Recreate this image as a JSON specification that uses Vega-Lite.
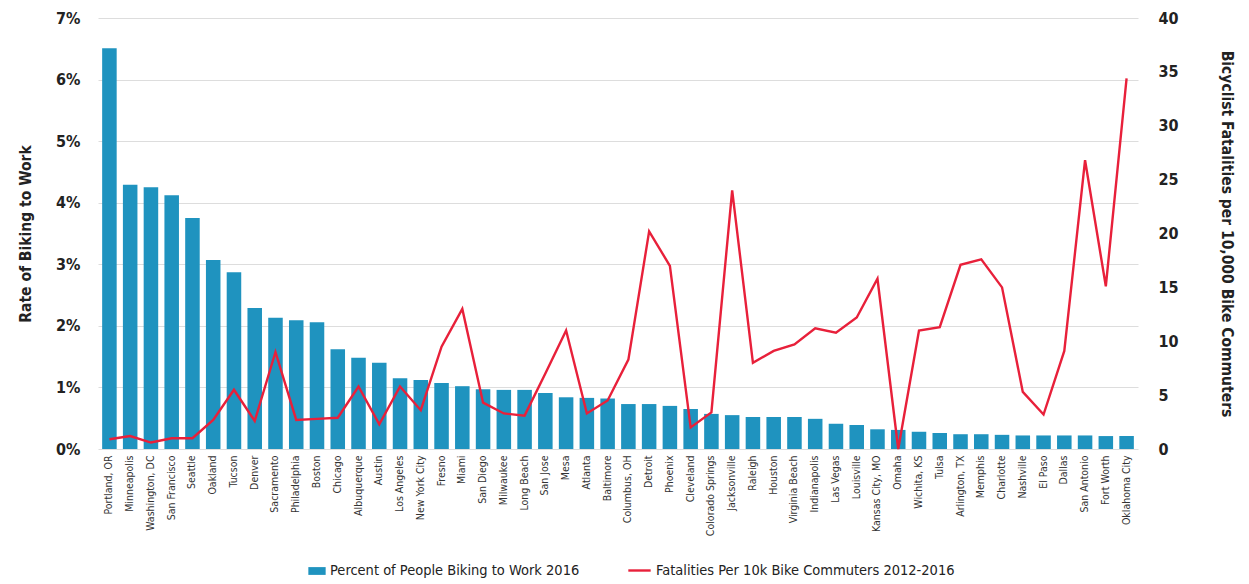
{
  "$schema": "https://vega.github.io/schema/vega-lite/v6.json",
  "width": 1040,
  "height": 431,
  "padding": {"left": 18, "top": 10, "right": 5, "bottom": 5},
  "background": "white",
  "config": {
    "view": {"stroke": null},
    "font": "DejaVu Sans Condensed",
    "axis": {"labelFont": "DejaVu Sans Condensed", "titleFont": "DejaVu Sans Condensed", "labelColor": "#222", "titleColor": "#222"},
    "legend": {"labelFont": "DejaVu Sans Condensed", "labelFontSize": 14.5, "labelColor": "#222", "labelLimit": 0},
    "line": {"strokeWidth": 2.4}
  },
  "datasets": {
    "cities": [
      {"city": "Portland, OR", "rate": 0.0651, "fatal": 0.9},
      {"city": "Minneapolis", "rate": 0.0429, "fatal": 1.2},
      {"city": "Washington, DC", "rate": 0.0425, "fatal": 0.6},
      {"city": "San Francisco", "rate": 0.0412, "fatal": 1.0},
      {"city": "Seattle", "rate": 0.0375, "fatal": 1.0},
      {"city": "Oakland", "rate": 0.0307, "fatal": 2.7},
      {"city": "Tucson", "rate": 0.0287, "fatal": 5.5},
      {"city": "Denver", "rate": 0.0229, "fatal": 2.6},
      {"city": "Sacramento", "rate": 0.0213, "fatal": 9.0},
      {"city": "Philadelphia", "rate": 0.0209, "fatal": 2.7},
      {"city": "Boston", "rate": 0.0206, "fatal": 2.8},
      {"city": "Chicago", "rate": 0.0162, "fatal": 2.9},
      {"city": "Albuquerque", "rate": 0.0148, "fatal": 5.8},
      {"city": "Austin", "rate": 0.0140, "fatal": 2.3},
      {"city": "Los Angeles", "rate": 0.0115, "fatal": 5.8},
      {"city": "New York City", "rate": 0.0112, "fatal": 3.6},
      {"city": "Fresno", "rate": 0.0107, "fatal": 9.5},
      {"city": "Miami", "rate": 0.0102, "fatal": 13.0},
      {"city": "San Diego", "rate": 0.0097, "fatal": 4.3},
      {"city": "Milwaukee", "rate": 0.0096, "fatal": 3.3},
      {"city": "Long Beach", "rate": 0.0096, "fatal": 3.1},
      {"city": "San Jose", "rate": 0.0091, "fatal": 7.0},
      {"city": "Mesa", "rate": 0.0084, "fatal": 11.0},
      {"city": "Atlanta", "rate": 0.0083, "fatal": 3.3},
      {"city": "Baltimore", "rate": 0.0082, "fatal": 4.5},
      {"city": "Columbus, OH", "rate": 0.0073, "fatal": 8.3},
      {"city": "Detroit", "rate": 0.0073, "fatal": 20.2},
      {"city": "Phoenix", "rate": 0.0070, "fatal": 17.0},
      {"city": "Cleveland", "rate": 0.0065, "fatal": 2.0},
      {"city": "Colorado Springs", "rate": 0.0057, "fatal": 3.4},
      {"city": "Jacksonville", "rate": 0.0055, "fatal": 24.0},
      {"city": "Raleigh", "rate": 0.0052, "fatal": 8.0},
      {"city": "Houston", "rate": 0.0052, "fatal": 9.1},
      {"city": "Virginia Beach", "rate": 0.0052, "fatal": 9.7},
      {"city": "Indianapolis", "rate": 0.0049, "fatal": 11.2},
      {"city": "Las Vegas", "rate": 0.0041, "fatal": 10.8},
      {"city": "Louisville", "rate": 0.0039, "fatal": 12.2},
      {"city": "Kansas City, MO", "rate": 0.0032, "fatal": 15.8},
      {"city": "Omaha", "rate": 0.0031, "fatal": 0.0},
      {"city": "Wichita, KS", "rate": 0.0028, "fatal": 11.0},
      {"city": "Tulsa", "rate": 0.0026, "fatal": 11.3},
      {"city": "Arlington, TX", "rate": 0.0024, "fatal": 17.1},
      {"city": "Memphis", "rate": 0.0024, "fatal": 17.6},
      {"city": "Charlotte", "rate": 0.0023, "fatal": 15.0},
      {"city": "Nashville", "rate": 0.0022, "fatal": 5.3},
      {"city": "El Paso", "rate": 0.0022, "fatal": 3.2},
      {"city": "Dallas", "rate": 0.0022, "fatal": 9.1},
      {"city": "San Antonio", "rate": 0.0022, "fatal": 26.8},
      {"city": "Fort Worth", "rate": 0.0021, "fatal": 15.1},
      {"city": "Oklahoma City", "rate": 0.0021, "fatal": 34.4}
    ]
  },
  "data": {"name": "cities"},
  "encoding": {
    "x": {
      "field": "city", "type": "nominal", "sort": null,
      "scale": {"paddingInner": 0.3, "paddingOuter": 0.2},
      "axis": {"title": null, "labelAngle": -90, "labelFontSize": 10.5, "ticks": false, "domain": false, "labelPadding": 6, "labelColor": "#333"}
    }
  },
  "layer": [
    {
      "mark": {"type": "bar"},
      "encoding": {
        "y": {
          "field": "rate", "type": "quantitative",
          "scale": {"domain": [0, 0.07], "nice": false},
          "axis": {"title": "Rate of Biking to Work", "format": ".0%", "values": [0, 0.01, 0.02, 0.03, 0.04, 0.05, 0.06, 0.07], "labelFontSize": 16, "labelFontWeight": "bold", "titleFontSize": 15.5, "titleFontWeight": "bold", "titlePadding": 22, "ticks": false, "domain": false, "labelPadding": 18, "gridColor": "#dddddd", "grid": true}
        },
        "fill": {
          "datum": "Percent of People Biking to Work 2016", "type": "nominal",
          "scale": {"range": ["#1f93bf"]},
          "legend": {"title": null, "orient": "none", "legendX": 210, "legendY": 544, "symbolType": "M-1,-0.45H1V0.45H-1Z", "symbolSize": 300, "symbolStrokeWidth": 0}
        }
      }
    },
    {
      "mark": {"type": "line", "strokeWidth": 2.4},
      "encoding": {
        "y": {
          "field": "fatal", "type": "quantitative",
          "scale": {"domain": [0, 40], "nice": false},
          "axis": {"title": "Bicyclist Fatalities per 10,000 Bike Commuters", "orient": "right", "values": [0, 5, 10, 15, 20, 25, 30, 35, 40], "labelFontSize": 16, "labelFontWeight": "bold", "titleFontSize": 15.5, "titleFontWeight": "bold", "titlePadding": 40, "ticks": false, "domain": false, "labelPadding": 20, "grid": false}
        },
        "stroke": {
          "datum": "Fatalities Per 10k Bike Commuters 2012-2016", "type": "nominal",
          "scale": {"range": ["#e8203a"]},
          "legend": {"title": null, "orient": "none", "legendX": 529, "legendY": 540, "symbolType": "stroke", "symbolSize": 500, "symbolStrokeWidth": 3}
        }
      }
    }
  ],
  "resolve": {"scale": {"y": "independent", "fill": "independent", "stroke": "independent"}}
}
